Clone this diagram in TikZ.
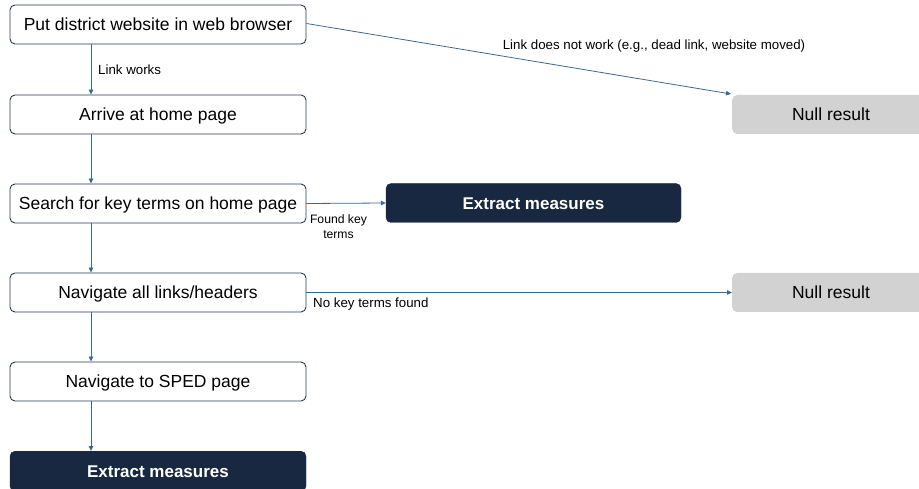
\documentclass[tikz,border=0pt]{standalone}
\usepackage{fontspec}
\setmainfont{Liberation Sans}
\usetikzlibrary{arrows.meta}
\definecolor{navy}{HTML}{172840}
\definecolor{edge}{HTML}{2B3B50}
\definecolor{arrowc}{HTML}{3A6A92}
\definecolor{nullgray}{HTML}{D2D2D2}
\begin{document}
\begin{tikzpicture}[x=1pt,y=-1pt,
  bigfont/.style={font=\fontsize{17.5}{20}\selectfont, text height=12.5pt, text depth=0pt},
  stepbox/.style={draw=edge, line width=0.9pt, fill=white, rounded corners=5pt, minimum width=296pt, minimum height=39pt, inner sep=0pt, bigfont},
  darkbox/.style={draw=navy, fill=navy, text=white, rounded corners=5pt, minimum height=39pt, inner sep=0pt, font=\fontsize{17}{20}\selectfont\bfseries, text height=12.5pt, text depth=0pt},
  nullbox/.style={fill=nullgray, rounded corners=5pt, minimum width=200pt, minimum height=39pt, inner sep=0pt},
  conn/.style={draw=arrowc, line width=0.8pt, -{Triangle[length=5pt,width=4.5pt]}},
  lab/.style={font=\fontsize{13.3}{15}\selectfont, inner sep=0pt}
]
\useasboundingbox (0,0) rectangle (919,489);
\node[stepbox] (b1) at (158,24.5) {Put district website in web browser};
\node[stepbox] (b2) at (158,114.5) {Arrive at home page};
\node[stepbox] (b3) at (158,203.5) {Search for key terms on home page};
\node[stepbox] (b4) at (158,292.5) {Navigate all links/headers};
\node[stepbox] (b5) at (158,381.5) {Navigate to SPED page};
\node[darkbox, minimum width=296pt, minimum height=40pt, anchor=north] (b6) at (158,451) {};
\node[text=white, font=\fontsize{17}{20}\selectfont\bfseries, text height=12.5pt, text depth=0pt] at (158,471) {Extract measures};
\node[darkbox, minimum width=295pt] (e1) at (533.5,203) {Extract measures};
\node[nullbox, anchor=west] (n1) at (732,114.5) {};
\node[bigfont] at (831,114.5) {Null result};
\node[nullbox, anchor=west] (n2) at (732,292.5) {};
\node[bigfont] at (831,292.5) {Null result};

\coordinate (c1) at (91,44);
\draw[conn] (b1.south -| c1) -- (b2.north -| c1);
\draw[conn] (b2.south -| c1) -- (b3.north -| c1);
\draw[conn] (b3.south -| c1) -- (b4.north -| c1);
\draw[conn] (b4.south -| c1) -- (b5.north -| c1);
\draw[conn] (b5.south -| c1) -- (b6.north -| c1);
\node[lab, anchor=west] at (98,70) {Link works};

\coordinate (n1tl) at (731,94);
\draw[conn] (b1.east) ++(0,-1) -- (n1tl);
\node[lab] at (654,46) {Link does not work (e.g., dead link, website moved)};

\draw[conn] (b3.east) -- (e1.west);
\node[lab, align=center, font=\fontsize{12.2}{15}\selectfont] at (338.5,227) {Found key\\terms};

\draw[conn] (b4.east) -- (n2.west);
\node[lab, anchor=west] at (313,304) {No key terms found};
\end{tikzpicture}
\end{document}
